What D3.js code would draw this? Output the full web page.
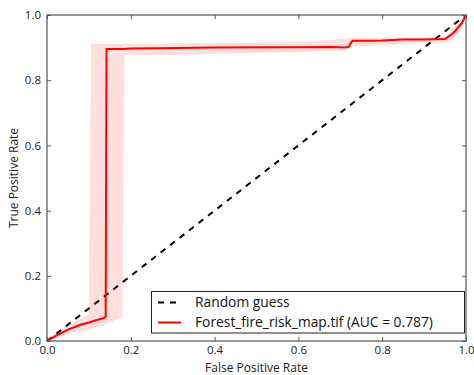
<!DOCTYPE html>
<html><head><meta charset="utf-8">
<script src="https://cdn.jsdelivr.net/npm/d3@7"></script>
<style>body{margin:0;background:#fff}svg{display:block}</style>
</head><body>
<svg id="c" width="474" height="375"></svg>
<script>
// Data
const fpr   = [0, 0.02, 0.05, 0.08, 0.10, 0.105, 0.135, 0.140, 0.142, 0.175, 0.18, 0.185, 0.20, 0.27, 0.31, 0.40, 0.60, 0.68, 0.71, 0.72, 0.727, 0.73, 0.76, 0.80, 0.85, 0.90, 0.95, 0.97, 0.99, 1.0];
const tprMean = [0, 0.015, 0.035, 0.05, 0.057, 0.059, 0.07, 0.075, 0.896, 0.896, 0.896, 0.896, 0.897, 0.898, 0.899, 0.900, 0.901, 0.902, 0.900, 0.902, 0.918, 0.921, 0.921, 0.922, 0.925, 0.925, 0.926, 0.945, 0.975, 1.0];
const tprUpper = [0, 0.025, 0.05, 0.07, 0.08, 0.912, 0.912, 0.912, 0.912, 0.912, 0.912, 0.912, 0.912, 0.912, 0.913, 0.915, 0.917, 0.924, 0.927, 0.929, 0.930, 0.930, 0.930, 0.931, 0.932, 0.932, 0.935, 0.96, 0.99, 1.0];
const tprLower = [0, 0.008, 0.02, 0.03, 0.035, 0.037, 0.047, 0.05, 0.052, 0.072, 0.075, 0.877, 0.877, 0.877, 0.878, 0.882, 0.886, 0.890, 0.892, 0.894, 0.900, 0.905, 0.905, 0.908, 0.912, 0.915, 0.915, 0.925, 0.955, 1.0];
const chanceX = [0, 1];
const chanceY = [0, 1];
const ticks = [0, 0.2, 0.4, 0.6, 0.8, 1.0];
const tickLabels = ["0.0", "0.2", "0.4", "0.6", "0.8", "1.0"];
const legendLabels = ["Random guess", "Forest_fire_risk_map.tif (AUC = 0.787)"];
const xTitle = "False Positive Rate";
const yTitle = "True Positive Rate";

const svg = d3.select("#c");
const L = 47, R = 466, T = 15, B = 341;
const x = d3.scaleLinear().domain([0, 1]).range([L, R]);
const y = d3.scaleLinear().domain([0, 1]).range([B, T]);
const font = "'Open Sans', sans-serif";

const g = svg.append("g");
const pts = fpr.map((f, i) => ({f, m: tprMean[i], u: tprUpper[i], l: tprLower[i]}));

svg.append("clipPath").attr("id", "cp").append("rect")
  .attr("x", L).attr("y", T).attr("width", R - L).attr("height", B - T);

g.append("path").datum(pts).attr("clip-path", "url(#cp)")
  .attr("d", d3.area().x(d => x(d.f)).y0(d => y(d.l)).y1(d => y(d.u)))
  .attr("fill", "rgba(255,0,0,0.13)");

g.append("path").datum(chanceX.map((v, i) => [v, chanceY[i]]))
  .attr("d", d3.line().x(d => x(d[0])).y(d => y(d[1])))
  .attr("fill", "none").attr("stroke", "#000").attr("stroke-width", 2)
  .attr("stroke-dasharray", "6,6");

g.append("path").datum(pts).attr("clip-path", "url(#cp)")
  .attr("d", d3.line().x(d => x(d.f)).y(d => y(d.m)))
  .attr("fill", "none").attr("stroke", "#ff0000").attr("stroke-width", 2);

// frame
svg.append("rect").attr("x", L).attr("y", T).attr("width", R - L).attr("height", B - T)
  .attr("fill", "none").attr("stroke", "#555").attr("stroke-width", 1.2);

// axes with inward ticks
const axB = svg.append("g").attr("transform", `translate(0,${B})`)
  .call(d3.axisBottom(x).tickValues(ticks).tickFormat((d, i) => tickLabels[i]).tickSizeInner(-4).tickSizeOuter(0).tickPadding(5));
const axL = svg.append("g").attr("transform", `translate(${L},0)`)
  .call(d3.axisLeft(y).tickValues(ticks).tickFormat((d, i) => tickLabels[i]).tickSizeInner(-4).tickSizeOuter(0).tickPadding(6));
const axT = svg.append("g").attr("transform", `translate(0,${T})`)
  .call(d3.axisTop(x).tickValues(ticks).tickFormat("").tickSizeInner(-4).tickSizeOuter(0));
const axR = svg.append("g").attr("transform", `translate(${R},0)`)
  .call(d3.axisRight(y).tickValues(ticks).tickFormat("").tickSizeInner(-4).tickSizeOuter(0));
[axB, axL, axT, axR].forEach(a => {
  a.select(".domain").remove();
  a.selectAll(".tick line").attr("stroke", "#555");
  a.selectAll("text").attr("font-family", font).attr("font-size", 11.5).attr("fill", "#222");
});

svg.append("text").attr("x", (L + R) / 2).attr("y", 372).attr("text-anchor", "middle")
  .attr("font-family", font).attr("font-size", 12).attr("fill", "#222").text(xTitle);
svg.append("text").attr("transform", `translate(18,${(T + B) / 2}) rotate(-90)`).attr("text-anchor", "middle")
  .attr("font-family", font).attr("font-size", 12).attr("fill", "#222").text(yTitle);

// legend
const lg = svg.append("g");
lg.append("rect").attr("x", 151.5).attr("y", 291.5).attr("width", 313).attr("height", 41.5)
  .attr("fill", "#fff").attr("stroke", "#222").attr("stroke-width", 1);
const rows = [{dash: "6,6", color: "#000"}, {dash: null, color: "#ff0000"}];
rows.forEach((r, i) => {
  const yy = 302.5 + i * 20;
  lg.append("line").attr("x1", 158).attr("x2", 181).attr("y1", yy).attr("y2", yy)
    .attr("stroke", r.color).attr("stroke-width", 2).attr("stroke-dasharray", r.dash);
  lg.append("text").attr("x", 195).attr("y", yy).attr("dy", "0.35em")
    .attr("font-family", font).attr("font-size", 13.8).attr("fill", "#111").text(legendLabels[i]);
});
</script>
</body></html>
